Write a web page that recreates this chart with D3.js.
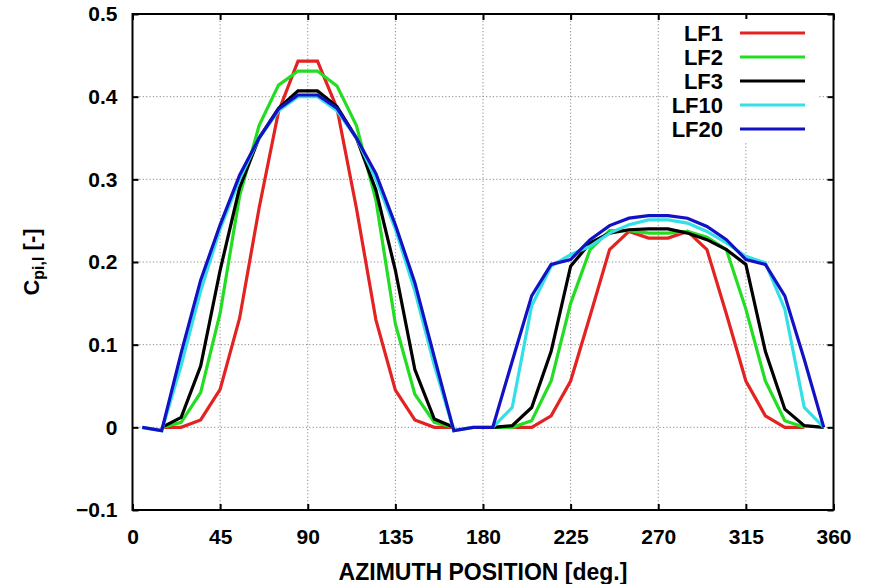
<!DOCTYPE html>
<html>
<head>
<meta charset="utf-8">
<script src="https://cdn.jsdelivr.net/npm/d3@7"></script>
<style>
  html, body { margin: 0; padding: 0; background: #fff; }
  svg { display: block; }
  text { font-family: "Liberation Sans", Arial, Helvetica, sans-serif; font-weight: bold; fill: #000; }
</style>
</head>
<body>
<svg id="chart" width="869" height="584"></svg>
<script>
// Azimuth positions (deg.) at which the local power coefficient is sampled
const azimuth = [5, 15, 25, 35, 45, 55, 65, 75, 85, 95, 105, 115, 125, 135, 145, 155, 165, 175,
                 185, 195, 205, 215, 225, 235, 245, 255, 265, 275, 285, 295, 305, 315, 325, 335, 345, 355];

// Local power coefficient C_pi,l for each case (null = no sample)
const lf1 = [null, 0, 0, 0.009, 0.046, 0.132, 0.265, 0.382, 0.443, 0.443, 0.386, 0.265, 0.130, 0.045, 0.009, 0, 0, null,
             null, 0, 0, 0.014, 0.056, 0.135, 0.215, 0.237, 0.229, 0.229, 0.237, 0.215, 0.137, 0.056, 0.014, 0, 0, null];
const lf2 = [null, 0, 0.006, 0.042, 0.138, 0.280, 0.365, 0.414, 0.431, 0.431, 0.413, 0.365, 0.275, 0.125, 0.040, 0.006, 0, null,
             0, 0, 0.008, 0.056, 0.150, 0.215, 0.238, 0.238, 0.235, 0.235, 0.237, 0.230, 0.215, 0.143, 0.056, 0.008, 0, null];
const lf3 = [null, 0, 0.012, 0.074, 0.190, 0.290, 0.350, 0.386, 0.407, 0.407, 0.388, 0.350, 0.287, 0.190, 0.070, 0.010, 0, null,
             0, 0.002, 0.024, 0.092, 0.195, 0.223, 0.235, 0.239, 0.240, 0.240, 0.235, 0.227, 0.215, 0.197, 0.092, 0.022, 0.002, 0];
const lf10 = [0, -0.004, 0.075, 0.165, 0.240, 0.300, 0.350, 0.383, 0.400, 0.400, 0.383, 0.350, 0.300, 0.240, 0.165, 0.075, -0.004, 0,
              0, 0.024, 0.147, 0.195, 0.209, 0.219, 0.235, 0.245, 0.251, 0.251, 0.247, 0.237, 0.223, 0.207, 0.199, 0.143, 0.024, 0];
const lf20 = [0, -0.004, 0.090, 0.178, 0.245, 0.305, 0.350, 0.385, 0.402, 0.402, 0.386, 0.350, 0.307, 0.245, 0.175, 0.085, -0.004, 0,
              0, 0.080, 0.159, 0.197, 0.203, 0.227, 0.244, 0.253, 0.256, 0.256, 0.253, 0.243, 0.227, 0.203, 0.197, 0.159, 0.082, 0];

const seriesNames = ["LF1", "LF2", "LF3", "LF10", "LF20"];
const seriesValues = [lf1, lf2, lf3, lf10, lf20];
const seriesColors = ["#e32222", "#22dd22", "#000000", "#33e0e6", "#1212c4"];

const xTicks = [0, 45, 90, 135, 180, 225, 270, 315, 360];
const yTicks = [-0.1, 0, 0.1, 0.2, 0.3, 0.4, 0.5];

const svg = d3.select("#chart");
const plotL = 132.5, plotR = 833.5, plotT = 14, plotB = 510;

const x = d3.scaleLinear().domain([0, 360]).range([plotL, plotR]);
const y = d3.scaleLinear().domain([-0.1, 0.5]).range([plotB, plotT]);

// dotted grid
const grid = svg.append("g").attr("stroke", "#8a8a8a").attr("stroke-width", 1)
  .attr("stroke-dasharray", "1.2,2.2");
xTicks.slice(1, -1).forEach(t => {
  grid.append("line").attr("x1", x(t)).attr("x2", x(t)).attr("y1", plotT).attr("y2", plotB);
});
yTicks.slice(1, -1).forEach(t => {
  grid.append("line").attr("x1", plotL).attr("x2", plotR).attr("y1", y(t)).attr("y2", y(t));
});

// axes with inward ticks, mirrored on top/right
const fmtY = d => d === 0 ? "0" : d3.format(".1f")(d);
const gx = svg.append("g").attr("transform", `translate(0,${plotB})`)
  .call(d3.axisBottom(x).tickValues(xTicks).tickSize(-6).tickPadding(19).tickFormat(d3.format("d")));
const gy = svg.append("g").attr("transform", `translate(${plotL},0)`)
  .call(d3.axisLeft(y).tickValues(yTicks).tickSize(-6).tickPadding(15).tickFormat(fmtY));
const gt = svg.append("g").attr("transform", `translate(0,${plotT})`)
  .call(d3.axisTop(x).tickValues(xTicks).tickSize(-6).tickFormat(""));
const gr = svg.append("g").attr("transform", `translate(${plotR},0)`)
  .call(d3.axisRight(y).tickValues(yTicks).tickSize(-6).tickFormat(""));
[gx, gy, gt, gr].forEach(g => {
  g.select(".domain").remove();
  g.selectAll(".tick line").attr("stroke", "#000").attr("stroke-width", 2);
  g.selectAll(".tick text").attr("font-size", 21).attr("font-family", null).attr("fill", "#000");
});

// legend background
svg.append("rect").attr("x", 668).attr("y", 19).attr("width", 150).attr("height", 122).attr("fill", "#fff");

// series
const line = d3.line()
  .defined(d => d[1] !== null)
  .x(d => x(d[0]))
  .y(d => y(d[1]));
seriesValues.forEach((vals, i) => {
  svg.append("path")
    .datum(azimuth.map((a, k) => [a, vals[k]]))
    .attr("fill", "none")
    .attr("stroke", seriesColors[i])
    .attr("stroke-width", 3.2)
    .attr("stroke-linejoin", "miter")
    .attr("d", line);
});

// legend
const legend = svg.append("g");
seriesNames.forEach((name, i) => {
  const cy = 33 + i * 24;
  legend.append("text").attr("x", 723).attr("y", cy + 8).attr("text-anchor", "end")
    .attr("font-size", 22).text(name);
  legend.append("line").attr("x1", 740).attr("x2", 805).attr("y1", cy).attr("y2", cy)
    .attr("stroke", seriesColors[i]).attr("stroke-width", 3.2);
});

// frame
svg.append("rect").attr("x", plotL).attr("y", plotT).attr("width", plotR - plotL).attr("height", plotB - plotT)
  .attr("fill", "none").attr("stroke", "#000").attr("stroke-width", 2);

// axis titles
svg.append("text").attr("x", (plotL + plotR) / 2).attr("y", 580).attr("text-anchor", "middle")
  .attr("font-size", 23).text("AZIMUTH POSITION [deg.]");

const yt = svg.append("text").attr("transform", `translate(39,${(plotT + plotB) / 2}) rotate(-90)`)
  .attr("text-anchor", "middle").attr("font-size", 22);
yt.append("tspan").text("C");
yt.append("tspan").attr("font-size", 16).attr("dy", 5).text("pi,l");
yt.append("tspan").attr("dy", -5).text(" [-]");
</script>
</body>
</html>
